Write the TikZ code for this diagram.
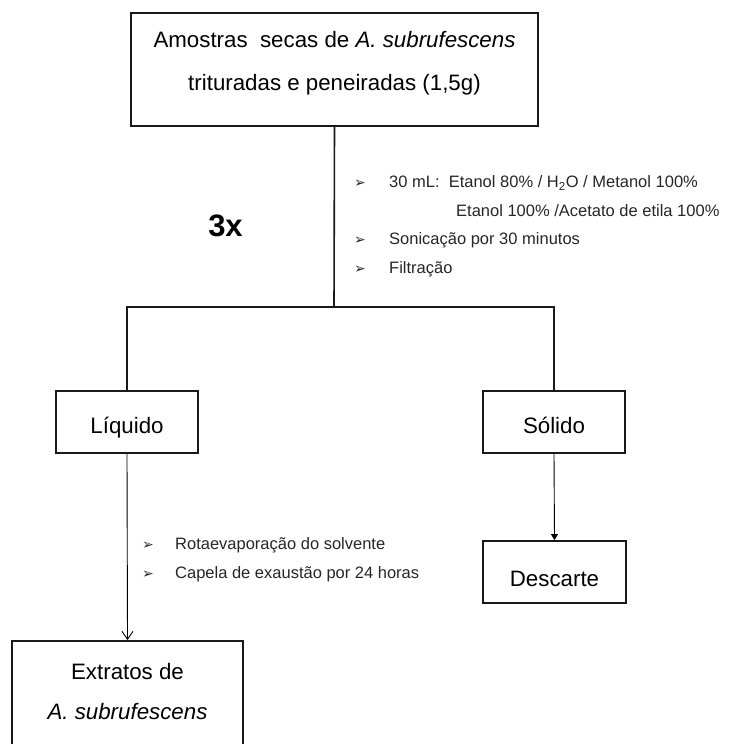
\documentclass[tikz,border=0pt]{standalone}
\usepackage{fontspec}
\setmainfont{Liberation Sans}
\newfontfamily\symfont{DejaVu Sans}
\usetikzlibrary{arrows.meta, positioning}

\newcommand{\bul}{{\symfont\fontsize{14}{14}\selectfont ➢}}

\begin{document}
\begin{tikzpicture}[x=1pt, y=-1pt,
    box/.style={rectangle, draw=black!90, line width=1.8pt, font=\fontsize{22.3}{43}\selectfont, align=center},
    branch/.style={draw=black!90, line width=1.6pt},
    thin/.style={draw=black, line width=0.9pt},
    steplist/.style={anchor=west, inner sep=0pt, font=\fontsize{16.5}{28.5}\selectfont, text=black!85}]
          \useasboundingbox (0,0) rectangle (728,744);
          \clip (0,0) rectangle (728,744);

          \node[box, minimum width=407pt, minimum height=113pt, text depth=18pt] (sample) at (334.5,69.5) {Amostras\ \ secas de \textit{A. subrufescens}\\ trituradas e peneiradas (1,5g)};
          \coordinate (split) at (334,307);
          \node[box, minimum width=142pt, minimum height=62pt, text height=23pt, text depth=0pt] (liquid) at (127,422) {Líquido};
          \node[box, minimum width=142pt, minimum height=62pt, text height=23pt, text depth=0pt] (solid) at (554,422) {Sólido};
          \node[box, minimum width=143pt, minimum height=62pt, text height=28pt, text depth=0pt] (discard) at (554.5,572) {Descarte};
          \node[box, minimum width=231pt, minimum height=111pt, font=\fontsize{22.3}{40}\selectfont, text depth=10pt] (extract) at (127.5,696.5) {Extratos de\\ \textit{A. subrufescens}};

          \draw[branch] (sample.south) -- (split);
          \draw[branch] (split) -| (liquid.north);
          \draw[branch] (split) -| (solid.north);
          \draw[thin, -{Straight Barb[length=8pt,width=11pt]}] (liquid.south) -- (extract.north);
          \draw[thin, -{Triangle[length=6pt,width=7pt]}] (solid.south) -- (discard.north);

          \node[font=\fontsize{31}{31}\selectfont\bfseries] (repeat) at (225.5,226) {3x};
          \node[steplist] (steps) at (354,225) {\begin{tabular}{@{}p{35pt}@{}l@{}}
            \bul & 30 mL:\ \ Etanol 80\% / H\textsubscript{2}O / Metanol 100\% \\
                 & \hspace{67pt}Etanol 100\% /Acetato de etila 100\% \\
            \bul & Sonicação por 30 minutos \\
            \bul & Filtração
          \end{tabular}};
          \node[steplist] (evap) at (142,558.5) {\begin{tabular}{@{}p{33pt}@{}l@{}}
            \bul & Rotaevaporação do solvente \\
            \bul & Capela de exaustão por 24 horas
          \end{tabular}};
      \end{tikzpicture}
\end{document}
